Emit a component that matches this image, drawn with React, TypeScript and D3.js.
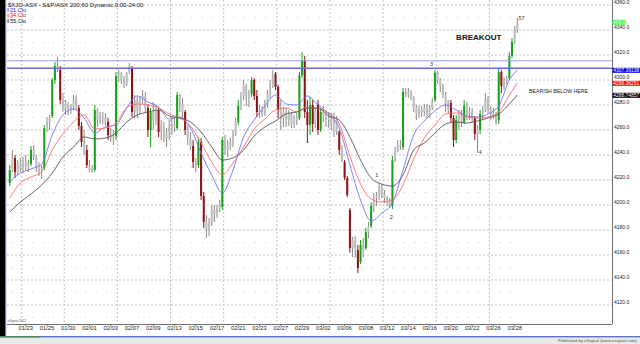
import React from 'react';
import * as d3 from 'd3';

// ---------- DATA ----------
const tradingDays = [
  "01/19","01/20","01/23","01/24","01/25","01/27","01/30","01/31","02/01","02/02",
  "02/03","02/06","02/07","02/08","02/09","02/10","02/13","02/14","02/15","02/16",
  "02/17","02/20","02/21","02/22","02/23","02/24","02/27","02/28","02/29","03/01",
  "03/02","03/05","03/06","03/07","03/08","03/09","03/12","03/13","03/14","03/15",
  "03/16","03/19","03/20","03/21","03/22","03/23","03/26","03/27","03/28"
];
const barsPerDay = 4;
const firstBar = 3;

const barOpen = [
  4217.6,4228,4237.6,4226.4,4232,4229.6,4234.4,4231.2,4232.8,4244,
  4238.4,4229.6,4228,4229.6,4261.6,4266.4,4271.2,4300,4311.2,4308,
  4284,4277.6,4280.8,4276,4279.2,4285.6,4277.6,4263.2,4250.4,4244,
  4232,4228,4228,4276,4268,4271.2,4269.6,4266.4,4256,4253.6,
  4255.2,4303.2,4304.8,4300,4296.8,4306.4,4309.6,4274.4,4284,4276,
  4285.6,4287.2,4277.6,4260,4274.4,4268,4276,4258.4,4263.2,4253.6,
  4258.4,4261.6,4264.8,4261.6,4288,4280.8,4274.4,4260,4253.6,4247.2,
  4234.4,4232,4250.4,4207.2,4186.4,4180,4186.4,4196,4192,4197.6,
  4198.4,4252,4244,4247.2,4250.4,4256.8,4266.4,4279.2,4287.2,4295.2,
  4285.6,4288.8,4300,4287.2,4274.4,4276,4272.8,4280.8,4288.8,4296.8,
  4304.8,4294.4,4276,4269.6,4274.4,4268,4272.8,4264.8,4268,4269.6,
  4304,4316,4274.4,4264,4280,4264.8,4280.8,4260,4274.4,4271.2,
  4268,4269.6,4264.8,4268,4258.4,4244,4234.4,4221.6,4196,4165.6,
  4172,4164,4154.4,4168,4165.6,4178.4,4183.2,4199.2,4205.6,4207.2,
  4215.2,4208.8,4205.6,4202.4,4199.2,4236,4244,4248,4246.4,4290.4,
  4288.8,4290.4,4285.6,4277.6,4272.8,4276,4274.4,4277.6,4271.2,4277.6,
  4284,4305.6,4300,4295.2,4288,4276,4281.6,4269.6,4252,4268,
  4271.2,4266.4,4279.2,4272.8,4274.4,4269.6,4256.8,4260,4272.8,4276,
  4285.6,4276,4272.8,4271.2,4268,4306.4,4295.2,4300,4301.6,4319.2,
  4330.4,4340
];
const barHigh = [
  4232,4244,4240,4236,4237.6,4238.4,4240,4236,4247.2,4248,
  4240,4234.4,4232,4264,4270.4,4272,4301.6,4314.4,4318.4,4311.2,
  4289.6,4284,4282.4,4280.8,4288,4288,4280,4266.4,4260,4248,
  4236,4232,4280,4277.6,4274.4,4274.4,4273.6,4269.6,4261.6,4260,
  4306.4,4308,4306.4,4303.2,4306.4,4313.6,4311.2,4288,4286.4,4287.2,
  4292,4290.4,4280.8,4277.6,4282.4,4280,4277.6,4268,4266.4,4261.6,
  4268,4270.4,4269.6,4290.4,4288.8,4285.6,4276,4264,4258.4,4252,
  4237.6,4254.4,4253.6,4210.4,4192,4189.6,4200,4200,4200,4204,
  4254.4,4256,4252,4253.6,4260,4269.6,4284,4290.4,4300,4296.8,
  4292,4302.4,4301.6,4292,4280,4279.2,4284,4292,4300,4308,
  4306.4,4296,4284,4278.4,4277.6,4276,4274.4,4272,4273.6,4306.4,
  4322.4,4319.2,4284,4286.4,4284,4277.6,4284,4277.6,4279.2,4276,
  4274.4,4273.6,4273.6,4271.2,4260,4248,4236,4223.2,4197.6,4174.4,
  4175.2,4168,4172,4173.6,4181.6,4186.4,4202.4,4209.6,4210.4,4217.6,
  4216.8,4212,4207.2,4205.6,4239.2,4246.4,4252,4252,4293.6,4293.6,
  4293.6,4292,4287.2,4280,4279.2,4279.2,4280.8,4280.8,4280,4285.6,
  4308,4307.2,4301.6,4296.8,4290.4,4284,4284,4272,4272,4276,
  4276,4284,4282.4,4278.4,4277.6,4271.2,4264,4276,4279.2,4289.6,
  4287.2,4279.2,4277.6,4274.4,4309.6,4308,4302.4,4303.2,4322.4,4333.6,
  4343.2,4349.6
];
const barLow = [
  4215.2,4226.4,4221.6,4224,4226.4,4225.6,4228,4226.4,4231.2,4236,
  4226.4,4223.2,4220.8,4228,4258.4,4260,4269.6,4296.8,4306.4,4280.8,
  4274.4,4272,4272,4272.8,4276,4276,4260,4246.4,4240,4229.6,
  4226.4,4225.6,4226.4,4262.4,4264.8,4264.8,4263.2,4252,4250.4,4248,
  4252,4298.4,4296.8,4293.6,4295.2,4304.8,4270.4,4269.6,4269.6,4272.8,
  4280.8,4274.4,4254.4,4246.4,4260,4264,4254.4,4252,4250.4,4246.4,
  4252,4256,4258.4,4260,4274.4,4269.6,4256,4248,4244,4229.6,
  4226.4,4229.6,4204,4181.6,4173.6,4175.2,4183.2,4186.4,4189.6,4194.4,
  4196,4240,4238.4,4244,4246.4,4255.2,4264,4276,4284,4279.2,
  4278.4,4286.4,4284,4270.4,4269.6,4270.4,4271.2,4277.6,4285.6,4293.6,
  4292,4269.6,4260,4262.4,4262.4,4263.2,4261.6,4261.6,4264,4268,
  4301.6,4269.6,4249.6,4256,4258.4,4261.6,4256,4258.4,4266.4,4262.4,
  4261.6,4260,4254.4,4256,4240,4234.4,4220,4206.4,4161.6,4158.4,
  4157.6,4145.6,4152.8,4158.4,4164,4173.6,4181.6,4194.4,4199.2,4204,
  4205.6,4201.6,4199.2,4197.6,4196.8,4234.4,4242.4,4244,4244,4286.4,
  4285.6,4284,4274.4,4268,4269.6,4270.4,4271.2,4269.6,4269.6,4276,
  4282.4,4296.8,4290.4,4285.6,4274.4,4273.6,4266.4,4246.4,4249.6,4260,
  4262.4,4264.8,4268,4268,4266.4,4252,4241.6,4256.8,4268,4274.4,
  4273.6,4268,4268.8,4264,4264.8,4289.6,4292,4296.8,4300,4317.6,
  4328.8,4337.6
];
const barClose = [
  4228,4237.6,4226.4,4232,4229.6,4234.4,4231.2,4232.8,4244,4238.4,
  4229.6,4226.4,4229.6,4261.6,4266.4,4269.6,4300,4311.2,4309.6,4284,
  4277.6,4280.8,4276,4279.2,4284,4277.6,4263.2,4250.4,4244,4232,
  4228,4229.6,4276,4268,4271.2,4269.6,4266.4,4256,4253.6,4255.2,
  4303.2,4304.8,4300,4296.8,4304.8,4311.2,4274.4,4284,4276,4285.6,
  4287.2,4277.6,4260,4274.4,4268,4276,4258.4,4263.2,4253.6,4258.4,
  4261.6,4264.8,4263.2,4288,4280.8,4274.4,4260,4253.6,4247.2,4234.4,
  4229.6,4250.4,4207.2,4186.4,4180,4186.4,4196,4192,4197.6,4200,
  4252,4244,4247.2,4250.4,4256.8,4266.4,4279.2,4287.2,4295.2,4285.6,
  4288.8,4300,4287.2,4274.4,4276,4272.8,4280.8,4288.8,4296.8,4304.8,
  4294.4,4276,4269.6,4274.4,4268,4272.8,4264.8,4268,4269.6,4304,
  4316,4274.4,4264,4280,4264.8,4274.4,4260,4274.4,4271.2,4268,
  4269.6,4264.8,4268,4258.4,4244,4236,4221.6,4208,4165.6,4172,
  4164,4149.6,4168,4164,4178.4,4183.2,4199.2,4205.6,4207.2,4215.2,
  4208.8,4205.6,4202.4,4200,4236,4244,4248,4247.2,4290.4,4288.8,
  4290.4,4285.6,4277.6,4272.8,4276,4274.4,4277.6,4271.2,4277.6,4282.4,
  4305.6,4300,4295.2,4288,4280.8,4281.6,4269.6,4252,4268,4271.2,
  4266.4,4279.2,4272.8,4274.4,4269.6,4256.8,4260,4272.8,4276,4285.6,
  4276,4272.8,4271.2,4265.6,4306.4,4295.2,4300,4301.6,4319.2,4330.4,
  4340,4345
];

// moving averages sampled once a day (bar 3, 7, 11, ... 191, then last bar 194)
const ma21 = [
  4218.4,4225.6,4228.8,4232.8,4256,4272,4276.8,4269.6,4257.6,4262.4,
  4264,4277.6,4287.2,4282.4,4278.4,4268.8,4270.4,4261.6,4241.6,4224,
  4209.6,4228,4254.4,4268,4279.2,4288,4280.8,4280,4287.2,4280,
  4272.8,4261.6,4232,4204,4187.2,4193.6,4201.6,4228,4256,4267.2,
  4275.2,4280,4276,4271.2,4270.4,4272.8,4279.2,4300,4308
];
const ma34 = [
  4205.6,4217.6,4222.4,4226.4,4244,4256.8,4266.4,4272,4260.8,4261.6,
  4265.6,4277.6,4280.8,4280,4277.6,4272.8,4269.6,4263.2,4249.6,4234.4,
  4224,4233.6,4246.4,4260.8,4268.8,4276,4277.6,4274.4,4278.4,4276.8,
  4273.6,4264.8,4239.2,4216.8,4204.8,4202.4,4204,4216,4236.8,4253.6,
  4264,4272.8,4273.6,4270.4,4269.6,4270.4,4274.4,4288,4297.6
];
const ma55 = [
  4194.4,4202.4,4208.8,4216,4225.6,4238.4,4246.4,4254.4,4252.8,4253.6,
  4257.6,4266.4,4272,4274.4,4276,4271.2,4269.6,4266.4,4258.4,4246.4,
  4236,4237.6,4244,4255.2,4262.4,4267.2,4272.8,4274.4,4277.6,4277.6,
  4271.2,4268,4254.4,4236,4221.6,4216.8,4215.2,4224,4244,4249.6,
  4257.6,4264.8,4266.4,4265.6,4267.2,4269.6,4272.8,4280.8,4288
];
const maLabels = ["21,Clo", "34,Clo", "55,Clo"];
const maBoxText = ["4307.39138", "4296.36251", "4288.74857"];

const resistanceUpper = 4315.4;
const resistanceLower = 4309.4;

const yTicks = [4120, 4140, 4160, 4180, 4200, 4220, 4240, 4260, 4280, 4300, 4320, 4340, 4360];

const annotations = [
  { text: "1", bar: 141.6, price: 4223.2 },
  { text: "2", bar: 147.1, price: 4189.6 },
  { text: "3", bar: 162.2, price: 4312 },
  { text: "4", bar: 180.6, price: 4241.6 },
  { text: "57", bar: 196.1, price: 4348.8 },
];
const title = "$XJO-ASX - S&P/ASX 200,60 Dynamic,0:00-24:00";

// ---------- CHART ----------
const W = 640, H = 344;
const plotL = 7, plotR = 612, plotT = 0, plotB = 324;
const font = "'Liberation Sans', Arial, sans-serif";

export default function App() {
  const totalUnits = tradingDays.length * barsPerDay;
  const barW = 2.6575;
  const x = d3.scaleLinear().domain([0, totalUnits]).range([0.44, 0.44 + totalUnits * barW]);
  const y = d3.scaleLinear().domain([4120, 4360]).range([305, 5]);

  const bars = barOpen.map((o, k) => ({
    i: firstBar + k, o, h: barHigh[k], l: barLow[k], c: barClose[k],
  }));

  const maBars = d3.range(firstBar, firstBar + barOpen.length - 1, barsPerDay);
  maBars.push(firstBar + barOpen.length - 1);
  const maLine = d3.line<[number, number]>()
    .x(d => x(d[0] + 0.5)).y(d => y(d[1])).curve(d3.curveMonotoneX);
  const maSeries = [
    { vals: ma21, color: "#7272ff", text: "#2020d0" },
    { vals: ma34, color: "#ff6c6c", text: "#e01010" },
    { vals: ma55, color: "#555555", text: "#111111" },
  ];

  const dayX = (d: number) => x(d * barsPerDay);
  const isMonday = (s: string) => {
    const [m, dd] = s.split("/").map(Number);
    return new Date(2012, m - 1, dd).getDay() === 1;
  };
  const minorLevels = d3.range(4110, 4361, 20);

  const lastClose = barClose[barClose.length - 1];
  const greenY = y(lastClose) - 1.5;

  return (
    <svg width={W} height={H} style={{ position: "absolute", left: 0, top: 0, background: "#fff" }}
      fontFamily={font}>
      <defs>
        <clipPath id="plot"><rect x={plotL} y={plotT} width={plotR - plotL} height={plotB - plotT} /></clipPath>
      </defs>
      <rect x={0} y={0} width={W} height={H} fill="#fff" />

      {/* grid */}
      <g clipPath="url(#plot)">
        {yTicks.map(t => (
          <line key={"h" + t} x1={plotL} x2={plotR} y1={y(t)} y2={y(t)}
            stroke="#c4c4c4" strokeWidth={1} strokeDasharray="2,2" />
        ))}
        {tradingDays.map((s, d) => isMonday(s) ? (
          <line key={"v" + d} x1={dayX(d)} x2={dayX(d)} y1={plotT} y2={plotB}
            stroke="#c4c4c4" strokeWidth={1} strokeDasharray="2,2" />
        ) : null)}
        {tradingDays.map((s, d) => isMonday(s) ? null : minorLevels.map(lv => (
          <rect key={"m" + d + "_" + lv} x={dayX(d) - 0.5} y={y(lv) - 0.5} width={1} height={1} fill="#c8c8c8" />
        )))}
      </g>

      {/* candles */}
      <g clipPath="url(#plot)">
        {bars.map(b => {
          const cx = x(b.i + 0.5);
          const diff = b.c - b.o;
          const col = Math.abs(diff) >= 10 ? (diff > 0 ? "#17a317" : "#8e1212") : null;
          const wick = col ?? "#8a8a8a";
          const body = col ?? "#bcbcbc";
          const top = y(Math.max(b.o, b.c));
          const bot = y(Math.min(b.o, b.c));
          return (
            <g key={b.i}>
              <line x1={cx} x2={cx} y1={y(b.h)} y2={y(b.l)} stroke={wick} strokeWidth={1} />
              <rect x={cx - 1} y={top} width={2} height={Math.max(1, bot - top)} fill={body} />
            </g>
          );
        })}
      </g>

      {/* moving averages */}
      <g clipPath="url(#plot)">
        {maSeries.map((s, k) => (
          <path key={k} d={maLine(maBars.map((b, j) => [b, s.vals[j]] as [number, number])) || ""}
            fill="none" stroke={s.color} strokeWidth={0.9} />
        ))}
      </g>

      {/* horizontal levels */}
      <line x1={plotL} x2={plotR} y1={y(resistanceUpper)} y2={y(resistanceUpper)} stroke="#9a9aff" strokeWidth={1} />
      <line x1={plotL} x2={plotR} y1={y(resistanceLower)} y2={y(resistanceLower)} stroke="#6868f4" strokeWidth={1.4} />

      {/* annotations */}
      {annotations.map((a, k) => (
        <text key={k} x={x(a.bar)} y={y(a.price)} fontSize={5.5} fill="#333" textAnchor="middle" dominantBaseline="middle">{a.text}</text>
      ))}
      <text x={x(180)} y={y(4333.6)} fontSize={8} fontWeight="bold" fill="#111" textAnchor="middle" dominantBaseline="middle">BREAKOUT</text>
      <text x={x(210)} y={y(4290.4)} fontSize={5.2} fill="#222" textAnchor="middle" dominantBaseline="middle">BEARISH BELOW HERE</text>

      {/* legend */}
      <text x={8} y={6.5} fontSize={6} fill="#111">{title}</text>
      {maLabels.map((lb, k) => (
        <g key={lb}>
          <rect x={7.5} y={8 + k * 5.6} width={1.2} height={3.6} fill={maSeries[k].color} />
          <text x={10} y={11.6 + k * 5.6} fontSize={5.6} fill={maSeries[k].text}>{lb}</text>
        </g>
      ))}
      <text x={7.5} y={321.5} fontSize={3.2} fill="#555">eSignal 2012</text>

      {/* axes frame */}
      <line x1={plotR + 0.5} x2={plotR + 0.5} y1={0} y2={plotB} stroke="#707070" strokeWidth={1} />
      <line x1={plotL} x2={plotR} y1={plotB + 0.5} y2={plotB + 0.5} stroke="#707070" strokeWidth={1} />

      {/* y labels */}
      {yTicks.map(t => (
        <text key={"yl" + t} x={614} y={y(t) - 2.2} fontSize={5} fill="#222" dominantBaseline="middle">{t.toFixed(1)}</text>
      ))}

      {/* x labels */}
      {tradingDays.map((s, d) => (d >= 2 && d % 2 === 0) ? (
        <g key={"xl" + d}>
          <line x1={dayX(d) + 4} x2={dayX(d) + 4} y1={plotB} y2={plotB + 2} stroke="#707070" />
          <text x={dayX(d) + 4} y={plotB + 6} fontSize={5.8} fill="#222" textAnchor="middle">{s}</text>
        </g>
      ) : null)}

      {/* price boxes */}
      <rect x={612.5} y={greenY - 2.5} width={13} height={5} fill="#33ff33" />
      <text x={613.3} y={greenY + 0.2} fontSize={4.6} fill="#fff" dominantBaseline="middle"
        textLength={11.4} lengthAdjust="spacingAndGlyphs">{lastClose.toFixed(1)}</text>
      {maSeries.map((s, k) => {
        const v = s.vals[s.vals.length - 1];
        const bg = ["#0000d8", "#ff0000", "#000000"][k];
        return (
          <g key={"bx" + k}>
            <rect x={612.5} y={y(v) - 2.2} width={27.5} height={5} fill={bg} />
            <text x={613.2} y={y(v) + 0.4} fontSize={4.5} fill="#fff" dominantBaseline="middle"
              textLength={26} lengthAdjust="spacingAndGlyphs">{maBoxText[k]}</text>
          </g>
        );
      })}

      {/* left bar */}
      <rect x={0} y={0} width={5} height={336} fill="#000" />
      <rect x={5} y={0} width={1.2} height={336} fill="#6a78d8" />

      {/* bottom status bar */}
      <rect x={0} y={336} width={W} height={8} fill="#e9e9e9" />
      <rect x={0} y={336} width={W} height={1.4} fill="#5a74c8" />
      <rect x={0} y={336} width={40} height={1.4} fill="#4a8a4a" />
      <text x={637} y={341.5} fontSize={4.4} fill="#555" textAnchor="end">Published by eSignal (www.esignal.com)</text>
    </svg>
  );
}
